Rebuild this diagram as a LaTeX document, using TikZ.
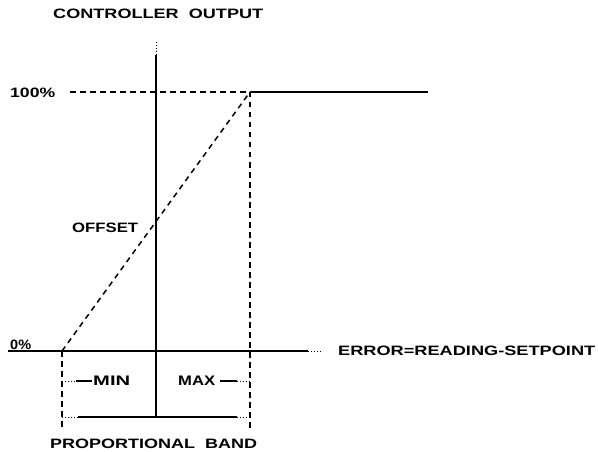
\documentclass[tikz,border=0pt]{standalone}
\usepackage{fontspec}
\setmainfont{Liberation Sans}
\newcommand{\fitlabel}[2]{\resizebox{#1}{9.5pt}{\bfseries #2}}
\begin{document}
\begin{tikzpicture}[x=1pt,y=-1pt,
  axis/.style={line width=1.7pt},
  dsh/.style={line width=1.5pt, dash pattern=on 5.5pt off 4.5pt},
  dot/.style={line width=0.9pt, dotted},
  lbl/.style={inner sep=0pt, anchor=west}]
\useasboundingbox (0,0) rectangle (598,452);
% key coordinates
\coordinate (vtop) at (156,55);
\coordinate (vtip) at (156,42);
\coordinate (vbot) at (156,417);
\coordinate (hl) at (8,351);
\coordinate (hr) at (308,351);
\coordinate (hrtip) at (322,351);
\coordinate (zero) at (62,351);
\coordinate (full) at (250,92);
\coordinate (fullend) at (428,92);
\coordinate (dstart) at (70,92);
\coordinate (zerobot) at (62,430);
\coordinate (fullbot) at (250,430);
\coordinate (minl) at (62,381);
\coordinate (mind) at (76,381);
\coordinate (mins) at (92,381);
\coordinate (maxs) at (220,381);
\coordinate (maxd) at (237,381);
\coordinate (maxr) at (250,381);
\coordinate (bl) at (62,417);
\coordinate (bld) at (78,417);
\coordinate (brd) at (237,417);
\coordinate (br) at (250,417);
% axes
\draw[axis] (vtop) -- (vbot);
\draw[dot] (vtip) -- (vtop);
\draw[axis] (hl) -- (hr);
\draw[dot] (hr) -- (hrtip);
% 100% level
\draw[dsh] (dstart) -- (full);
\draw[axis] (full) -- (fullend);
% proportional line
\draw[dsh] (zero) -- (full);
\draw[dsh] (full) -- (fullbot);
\draw[dsh] (zero) -- (zerobot);
% min / max
\draw[dot] (minl) -- (mind);
\draw[line width=1.2pt] (mind) -- (mins);
\draw[line width=1.2pt] (maxs) -- (maxd);
\draw[dot] (maxd) -- (maxr);
% band
\draw[dot] (bl) -- (bld);
\draw[axis] (bld) -- (brd);
\draw[dot] (brd) -- (br);
% labels
\node[lbl] (t1) at (53,14) {\fitlabel{210pt}{CONTROLLER\ \ OUTPUT}};
\node[lbl] (t2) at (10,93) {\fitlabel{45pt}{100\%}};
\node[lbl] (t3) at (10,345) {\fitlabel{21pt}{0\%}};
\node[lbl] (t4) at (72,228) {\fitlabel{66pt}{OFFSET}};
\node[lbl] (t5) at (338,351) {\fitlabel{257pt}{ERROR=READING-SETPOINT}};
\node[lbl] (t6) at (93,381) {\fitlabel{37pt}{MIN}};
\node[lbl] (t7) at (178,381) {\fitlabel{37pt}{MAX}};
\node[lbl] (t8) at (50,444) {\fitlabel{207pt}{PROPORTIONAL\ \ BAND}};
\end{tikzpicture}
\end{document}
